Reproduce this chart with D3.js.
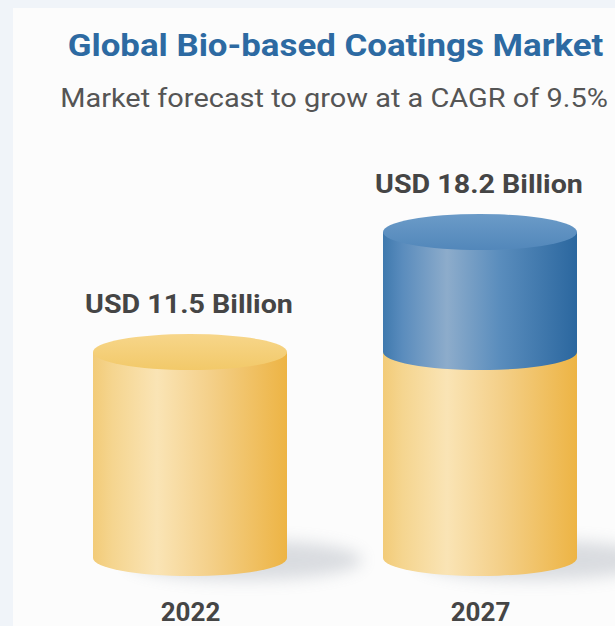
<!DOCTYPE html>
<html><head><meta charset="utf-8">
<script src="https://cdn.jsdelivr.net/npm/d3@7"></script>
<style>html,body{margin:0;padding:0;background:#f0f4f9;}svg{display:block;}</style>
</head><body>
<svg id="c" width="615" height="626"></svg>
<script>
const title = "Global Bio-based Coatings Market";
const subtitle = "Market forecast to grow at a CAGR of 9.5%";
const years = ["2022", "2027"];
const baseValues = [11.5, 11.5];     // yellow segment (market size 2022 level)
const growthValues = [0, 6.7];       // blue segment (growth to 2027)
const totalLabels = ["USD 11.5 Billion", "USD 18.2 Billion"];

const svg = d3.select("#c");
const W = 615, H = 626;
const defs = svg.append("defs");

svg.append("rect").attr("x", 13).attr("y", 8).attr("width", W - 13).attr("height", H - 8).attr("fill", "#fcfcfc");

function hGrad(id, stops) {
  const g = defs.append("linearGradient").attr("id", id).attr("x1", "0").attr("x2", "1").attr("y1", "0").attr("y2", "0");
  stops.forEach(s => g.append("stop").attr("offset", s[0]).attr("stop-color", s[1]));
}
function vGrad(id, stops) {
  const g = defs.append("linearGradient").attr("id", id).attr("x1", "0").attr("x2", "0").attr("y1", "0").attr("y2", "1");
  stops.forEach(s => g.append("stop").attr("offset", s[0]).attr("stop-color", s[1]));
}
hGrad("yBody", [[0, "#f2cb78"], [0.1, "#f5d58f"], [0.33, "#fae4b5"], [0.6, "#f4d08a"], [1, "#edb444"]]);
hGrad("bBody", [[0, "#3f79ae"], [0.1, "#5a8cbd"], [0.33, "#8daccb"], [0.6, "#5a8dbd"], [1, "#2b679f"]]);
vGrad("yTop", [[0, "#f7d68a"], [1, "#f2c969"]]);
vGrad("bTop", [[0, "#6b9bc8"], [1, "#5287ba"]]);
const f = defs.append("filter").attr("id", "blur").attr("x", "-50%").attr("y", "-100%").attr("width", "200%").attr("height", "300%");
f.append("feGaussianBlur").attr("stdDeviation", 8);

const colors = {base: {body: "url(#yBody)", top: "url(#yTop)"}, growth: {body: "url(#bBody)", top: "url(#bTop)"}};

const data = years.map((yr, i) => ({year: yr, base: baseValues[i], growth: growthValues[i], label: totalLabels[i]}));
const stack = d3.stack().keys(["base", "growth"]);
const series = stack(data);

const x = d3.scalePoint().domain(years).range([190, 480]);
const y = d3.scaleLinear().domain([0, 18.2]).range([558, 232]);
const rx = 97, ry = 18;

// shadows
svg.append("g").selectAll("ellipse").data(data).join("ellipse")
  .attr("cx", d => x(d.year) + 55).attr("cy", y(0) + 2)
  .attr("rx", rx + 20).attr("ry", ry + 2)
  .attr("fill", "#8a93a0").attr("opacity", 0.3).attr("filter", "url(#blur)");

const segs = [];
series.forEach(s => {
  s.forEach((p, i) => {
    if (p[1] - p[0] > 0) segs.push({key: s.key, year: data[i].year, y0: p[0], y1: p[1], total: data[i].base + data[i].growth});
  });
});

const gCyl = svg.append("g");
segs.forEach(d => {
  const cx = x(d.year), l = cx - rx, r = cx + rx;
  const yb = y(d.y0), yt = y(d.y1);
  gCyl.append("path")
    .attr("d", `M${l},${yt} L${l},${yb} A${rx},${ry} 0 0 0 ${r},${yb} L${r},${yt} Z`)
    .attr("fill", colors[d.key].body);
  if (Math.abs(d.y1 - d.total) < 1e-9) {
    gCyl.append("ellipse").attr("cx", cx).attr("cy", yt).attr("rx", rx).attr("ry", ry)
      .attr("fill", colors[d.key].top);
  }
});

// fit a text horizontally to a target width (the reference is slightly stretched)
function fit(sel, cx, yy, target) {
  sel.attr("x", 0).attr("y", 0).attr("text-anchor", "middle");
  const w = sel.node().getComputedTextLength();
  sel.attr("transform", `translate(${cx},${yy}) scale(${target / w},1)`);
}

// value labels
svg.append("g").selectAll("text").data(data).join("text")
  .attr("font-family", "Roboto, sans-serif").attr("font-weight", "bold").attr("font-size", 25)
  .attr("fill", "#454545")
  .text(d => d.label)
  .each(function(d) { fit(d3.select(this), x(d.year) - 1, y(d.base + d.growth) - ry - 21, 208); });

// year axis labels
const xAxis = d3.axisBottom(x).tickSize(0).tickPadding(0);
const ax = svg.append("g").attr("transform", "translate(0,603)").call(xAxis);
ax.select(".domain").remove();
ax.selectAll("text").attr("font-family", "Roboto, sans-serif").attr("font-weight", "bold")
  .attr("font-size", 26).attr("fill", "#454545").attr("dy", "0.71em");

fit(svg.append("text").attr("font-family", "Roboto, sans-serif").attr("font-weight", "bold").attr("font-size", 32)
  .attr("fill", "#2d6aa2").text(title), 335.5, 56, 536);
fit(svg.append("text").attr("font-family", "Roboto, sans-serif").attr("font-size", 25)
  .attr("fill", "#555555").text(subtitle), 334, 107, 548);
</script>
</body></html>
